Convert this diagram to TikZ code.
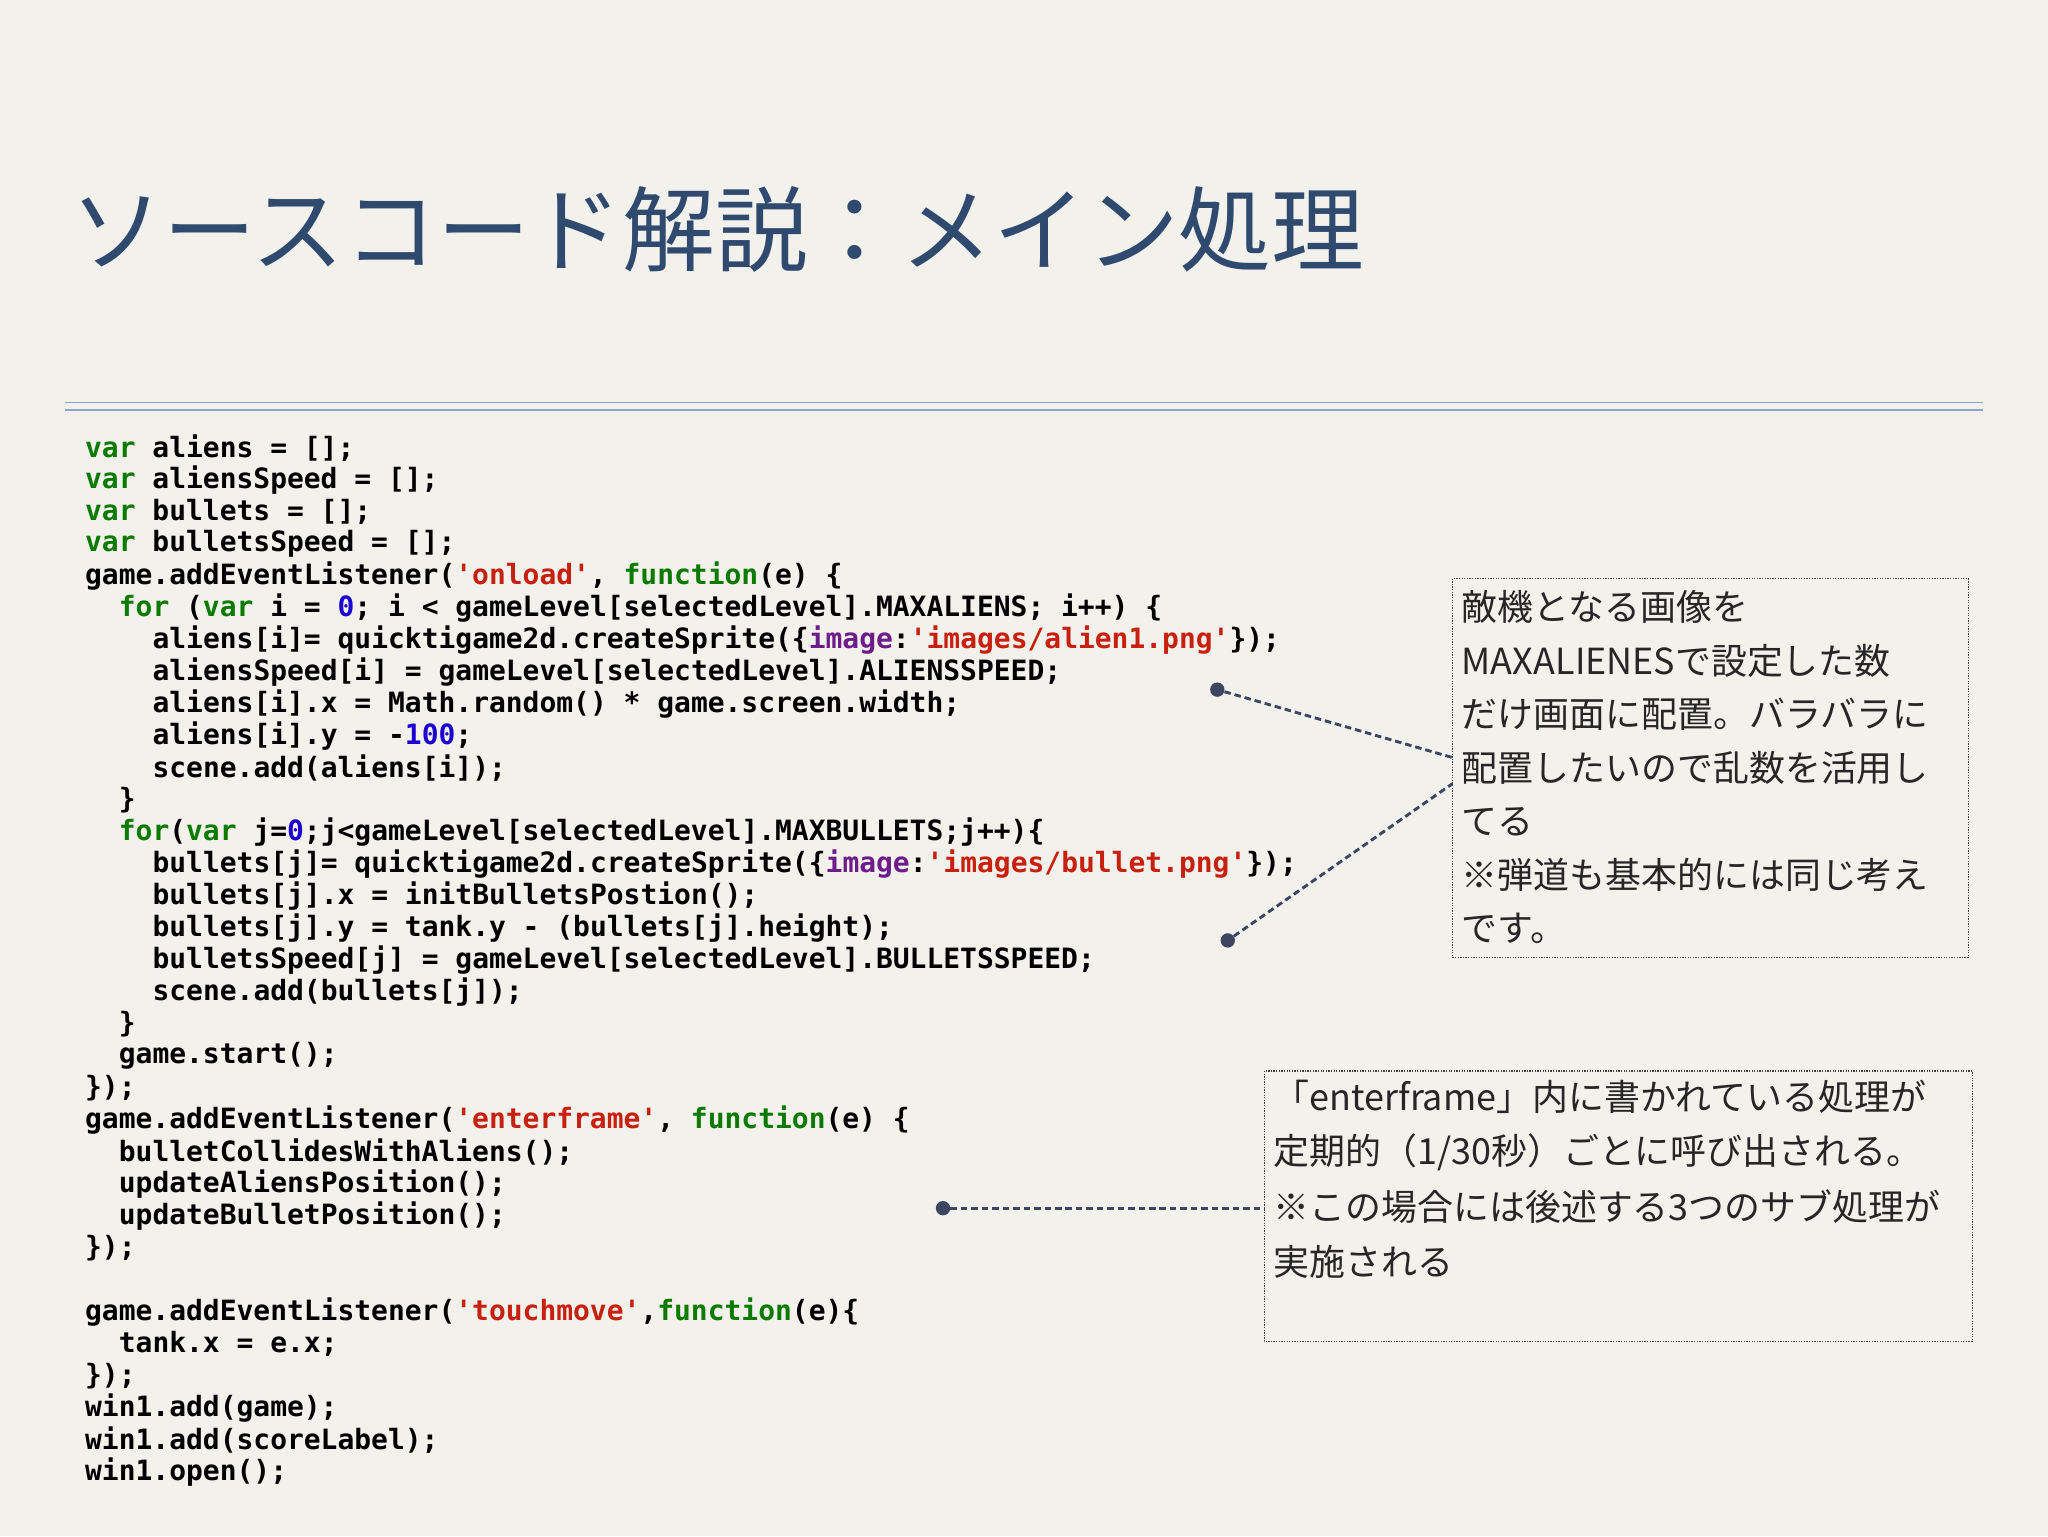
\documentclass[tikz,border=0pt]{standalone}
\usepackage{fontspec}
\newfontfamily\cjk{Noto Sans CJK JP}
\newfontfamily\codefont{DejaVu Sans Mono}
\definecolor{bg}{HTML}{F2F1EC}
\definecolor{titlec}{HTML}{2F4A6E}
\definecolor{kwc}{HTML}{0A7A00}
\definecolor{stc}{HTML}{C8200E}
\definecolor{nmc}{HTML}{1C00CF}
\definecolor{ppc}{HTML}{6E1C8A}
\definecolor{rulec}{HTML}{8FA3CC}
\definecolor{dotc}{HTML}{3C4660}
\newcommand{\kw}[1]{\textcolor{kwc}{#1}}
\newcommand{\st}[1]{\textcolor{stc}{#1}}
\newcommand{\nm}[1]{\textcolor{nmc}{#1}}
\newcommand{\pp}[1]{\textcolor{ppc}{#1}}
\tikzset{
 code/.style={anchor=west,inner sep=0pt,font=\codefont\bfseries\fontsize{21.4}{24}\selectfont},
 note/.style={anchor=west,inner sep=0pt,font=\cjk\fontsize{27.5}{30}\selectfont,text=black!85},
 notebox/.style={draw=black!75,densely dotted,line width=1pt},
 conn/.style={draw=dotc,dash pattern=on 5pt off 3pt,line width=2.2pt},
 dotn/.style={circle,fill=dotc,inner sep=0pt,minimum size=11pt}
}
\begin{document}
\begin{tikzpicture}[x=1pt,y=-1pt]
\fill[bg] (0,0) rectangle (1568,1176);
\useasboundingbox (0,0) rectangle (1568,1176);
\node[anchor=west,inner sep=0pt,text=titlec,font=\cjk\fontsize{71}{75}\selectfont] (title) at (54,176) {ソースコード解説：メイン処理};
\draw[rulec,line width=1pt] (50,308) -- (1518,308);
\draw[rulec,line width=1pt] (50,314) -- (1518,314);
\def\lh{24.5}
\foreach \n/\ind/\t in {
0/0/{\kw{var} aliens = [];},
1/0/{\kw{var} aliensSpeed = [];},
2/0/{\kw{var} bullets = [];},
3/0/{\kw{var} bulletsSpeed = [];},
4/0/{game.addEventListener(\st{'onload'}, \kw{function}(e) \{},
5/2/{\kw{for} (\kw{var} i = \nm{0}; i < gameLevel[selectedLevel].MAXALIENS; i++) \{},
6/4/{aliens[i]= quicktigame2d.createSprite(\{\pp{image}:\st{'images/alien1.png'}\});},
7/4/{aliensSpeed[i] = gameLevel[selectedLevel].ALIENSSPEED;},
8/4/{aliens[i].x = Math.random() * game.screen.width;},
9/4/{aliens[i].y = -\nm{100};},
10/4/{scene.add(aliens[i]);},
11/2/{\}},
12/2/{\kw{for}(\kw{var} j=\nm{0};j<gameLevel[selectedLevel].MAXBULLETS;j++)\{},
13/4/{bullets[j]= quicktigame2d.createSprite(\{\pp{image}:\st{'images/bullet.png'}\});},
14/4/{bullets[j].x = initBulletsPostion();},
15/4/{bullets[j].y = tank.y - (bullets[j].height);},
16/4/{bulletsSpeed[j] = gameLevel[selectedLevel].BULLETSSPEED;},
17/4/{scene.add(bullets[j]);},
18/2/{\}},
19/2/{game.start();},
20/0/{\});},
21/0/{game.addEventListener(\st{'enterframe'}, \kw{function}(e) \{},
22/2/{bulletCollidesWithAliens();},
23/2/{updateAliensPosition();},
24/2/{updateBulletPosition();},
25/0/{\});},
27/0/{game.addEventListener(\st{'touchmove'},\kw{function}(e)\{},
28/2/{tank.x = e.x;},
29/0/{\});},
30/0/{win1.add(game);},
31/0/{win1.add(scoreLabel);},
32/0/{win1.open();}}
{\node[code] (c\n) at (65+\ind*12.9,343+\n*\lh) {\t};}
% box 1
\draw[notebox] (1112,443) rectangle (1507,733);
\node[coordinate] (b1) at (1112,580) {};
\node[coordinate] (b1b) at (1112,600) {};
\foreach \n/\t in {0/{敵機となる画像を},1/{MAXALIENESで設定した数},2/{だけ画面に配置。バラバラに},3/{配置したいので乱数を活用し},4/{てる},5/{※弾道も基本的には同じ考え},6/{です。}}
{\node[note] (n1\n) at (1119,465+\n*41) {\t};}
% box 2
\draw[notebox] (968,820) rectangle (1510,1027);
\node[coordinate] (b2) at (968,925) {};
\foreach \n/\t in {0/{「enterframe」内に書かれている処理が},1/{定期的（1/30秒）ごとに呼び出される。},2/{※この場合には後述する3つのサブ処理が},3/{実施される}}
{\node[note] (n2\n) at (975,840+\n*42) {\t};}
% connectors
\node[dotn] (d1) at (932,528) {};
\node[dotn] (d2) at (940,720) {};
\node[dotn] (d3) at (722,925) {};
\draw[conn] (d1) -- (b1);
\draw[conn] (d2) -- (b1b);
\draw[conn] (d3) -- (b2);
\end{tikzpicture}
\end{document}
